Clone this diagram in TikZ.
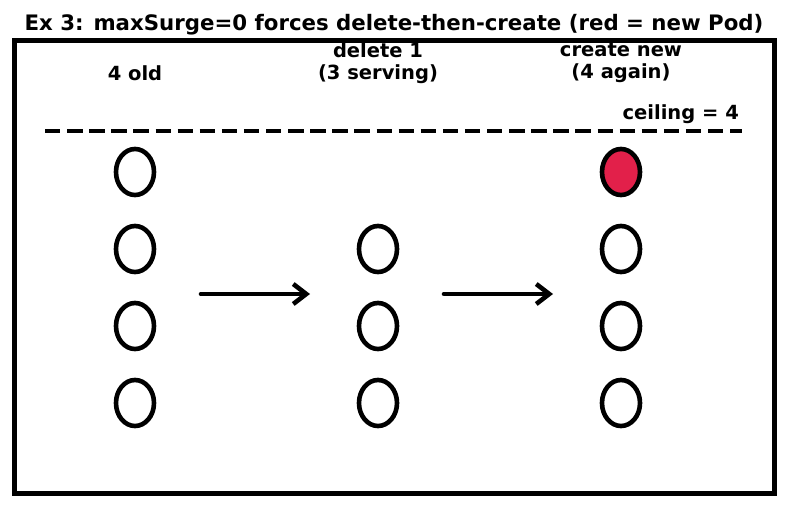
\documentclass[tikz,border=0pt]{standalone}
\usepackage{fontspec}
\setmainfont{DejaVu Sans}
\usepackage{tikz}
\usetikzlibrary{shapes,calc,arrows.meta,positioning}
\definecolor{podred}{RGB}{226,32,74}
\tikzstyle{pod} = [draw, ellipse, line width=4.6pt, minimum width=38pt, minimum height=46pt, inner sep=0pt, fill=white]
\tikzstyle{newpod} = [pod, fill=podred]
\tikzstyle{arrow} = [draw, -{Straight Barb[length=13pt,width=20pt]}, line width=4.6pt, line cap=round]
\tikzstyle{lbl} = [font=\fontsize{19.5}{22}\selectfont\bfseries, align=center, inner sep=0pt]

\begin{document}
\begin{tikzpicture}[x=1pt,y=-1pt]
      \useasboundingbox (0,0) rectangle (787,508);
      \node[lbl, font=\fontsize{21.3}{24}\selectfont\bfseries] (title) at (394,25) {Ex 3: maxSurge=0 forces delete-then-create (red = new Pod)};
      \draw[line width=5pt] (14,41) rectangle (774,493);
      % column headings
      \node[lbl] (hold) at (135,73) {4 old};
      \node[lbl] (hdel) at (378,63) {delete 1\\(3 serving)};
      \node[lbl] (hnew) at (621,63) {create new\\(4 again)};
      % ceiling line
      \draw[line width=4.6pt, dash pattern=on 15.4pt off 6.7pt] (45,131) -- (742,131);
      \node[lbl, anchor=east] (ceil) at (739,114) {ceiling = 4};
      % pods
      \foreach \r/\y in {1/172,2/249,3/326,4/403}
        \node[pod] (old\r) at (135,\y) {};
      \foreach \r/\y in {2/249,3/326,4/403}
        \node[pod] (del\r) at (378,\y) {};
      \node[newpod] (new1) at (621,172) {};
      \foreach \r/\y in {2/249,3/326,4/403}
        \node[pod] (new\r) at (621,\y) {};
      % steps
      \coordinate (s1) at (201,294);
      \coordinate (e1) at (310,294);
      \coordinate (s2) at (444,294);
      \coordinate (e2) at (553,294);
      \path[arrow] (s1) -- (e1);
      \path[arrow] (s2) -- (e2);
    \end{tikzpicture}
\end{document}
